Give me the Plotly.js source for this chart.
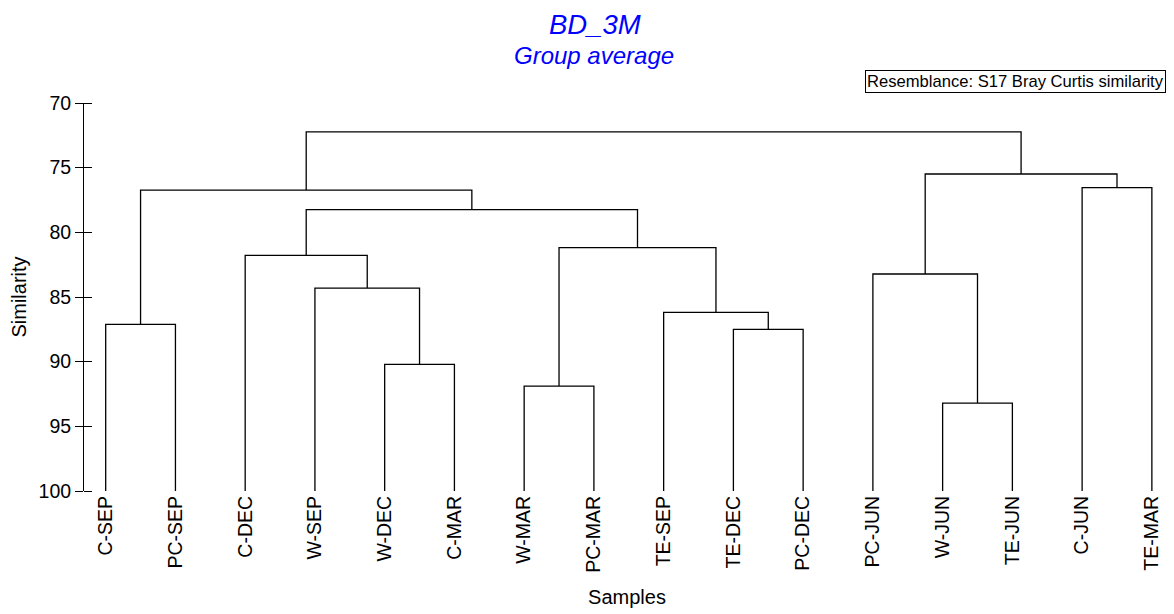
<!DOCTYPE html>
<html>
<head>
<meta charset="utf-8">
<script src="https://cdn.plot.ly/plotly-3.0.1.min.js"></script>
<style>html,body{margin:0;padding:0;background:#fff;}#chart{width:1174px;height:614px;}</style>
</head>
<body>
<div id="chart"></div>
<script>
// Leaf order (left to right)
const leafLabels = ["C-SEP","PC-SEP","C-DEC","W-SEP","W-DEC","C-MAR","W-MAR","PC-MAR",
                    "TE-SEP","TE-DEC","PC-DEC","PC-JUN","W-JUN","TE-JUN","C-JUN","TE-MAR"];
// Merges: node ids 0..15 are leaves, merge k creates node 16+k
const mergeLeft   = [0, 4, 3, 2, 6, 9, 8, 20, 19, 16, 12, 11, 14, 27, 25];
const mergeRight  = [1, 5, 17, 18, 7, 10, 21, 22, 23, 24, 13, 26, 15, 28, 29];
const mergeHeight = [87.12, 90.21, 84.31, 81.78, 91.89, 87.5, 86.19, 81.19, 78.25, 76.73, 93.2, 83.22, 76.55, 75.49, 72.24];
const yTicks = [70, 75, 80, 85, 90, 95, 100];

// Build dendrogram line segments
const nLeaf = leafLabels.length;
const nodeX = [], nodeY = [];
for (let i = 0; i < nLeaf; i++) { nodeX.push(i); nodeY.push(100); }
const xs = [], ys = [];
for (let k = 0; k < mergeHeight.length; k++) {
  const a = mergeLeft[k], b = mergeRight[k], h = mergeHeight[k];
  xs.push(nodeX[a], nodeX[a], nodeX[b], nodeX[b], null);
  ys.push(nodeY[a], h, h, nodeY[b], null);
  nodeX.push((nodeX[a] + nodeX[b]) / 2);
  nodeY.push(h);
}

const font = "Arial, 'Liberation Sans', sans-serif";
const traces = [{
  type: "scatter", mode: "lines", x: xs, y: ys,
  line: {color: "#000", width: 1.3}, hoverinfo: "skip", showlegend: false
}, {
  type: "scatter", mode: "lines", x: [0, 0], y: [100, 100], yaxis: "y2",
  line: {color: "rgba(0,0,0,0)", width: 0}, showlegend: false, hoverinfo: "skip"
}];

const layout = {
  width: 1174, height: 614,
  margin: {l: 84, r: 4, t: 103, b: 123},
  paper_bgcolor: "#fff", plot_bgcolor: "#fff",
  font: {family: font, color: "#000"},
  showlegend: false,
  xaxis: {
    domain: [0, 1],
    range: [-0.311, 15.26],
    tickmode: "array",
    tickvals: leafLabels.map((_, i) => i),
    ticktext: leafLabels,
    tickangle: -90,
    ticks: "", ticklen: 0,
    showline: false, showgrid: false, zeroline: false,
    tickfont: {size: 19.5, family: font, color: "#000"},
    title: {text: "Samples", font: {size: 20, family: font, color: "#000"}, standoff: 18}
  },
  yaxis: {
    range: [100, 70],
    tickmode: "array", tickvals: yTicks, ticktext: yTicks.map(String),
    ticks: "outside", ticklen: 8, tickwidth: 1, tickcolor: "#000",
    showline: true, linecolor: "#000", linewidth: 1,
    showgrid: false, zeroline: false,
    tickfont: {size: 19.5, family: font, color: "#000"},
    title: {text: "Similarity", font: {size: 20, family: font, color: "#000"}, standoff: 6}
  },
  yaxis2: {
    overlaying: "y", side: "left", anchor: "free", position: 8 / 1086,
    range: [100, 70],
    tickmode: "array", tickvals: yTicks,
    ticks: "outside", ticklen: 8, tickwidth: 1, tickcolor: "#000",
    showticklabels: false, showline: false, showgrid: false, zeroline: false
  },
  annotations: [
    {text: "<i>BD_3M</i>", xref: "paper", yref: "paper", x: 0.4705, y: 1.202,
     xanchor: "center", yanchor: "middle", showarrow: false,
     font: {size: 27.5, family: font, color: "#0000FF"}},
    {text: "<i>Group average</i>", xref: "paper", yref: "paper", x: 0.4695, y: 1.1235,
     xanchor: "center", yanchor: "middle", showarrow: false,
     font: {size: 24, family: font, color: "#0000FF"}},
    {text: "Resemblance: S17 Bray Curtis similarity", xref: "paper", yref: "paper",
     x: 0.9963, y: 1.0554, xanchor: "right", yanchor: "middle", showarrow: false,
     bordercolor: "#000", borderwidth: 1, borderpad: 1, bgcolor: "#fff",
     font: {size: 16.6, family: font, color: "#000"}}
  ]
};

Plotly.newPlot("chart", traces, layout, {displayModeBar: false, staticPlot: true});
</script>
</body>
</html>
